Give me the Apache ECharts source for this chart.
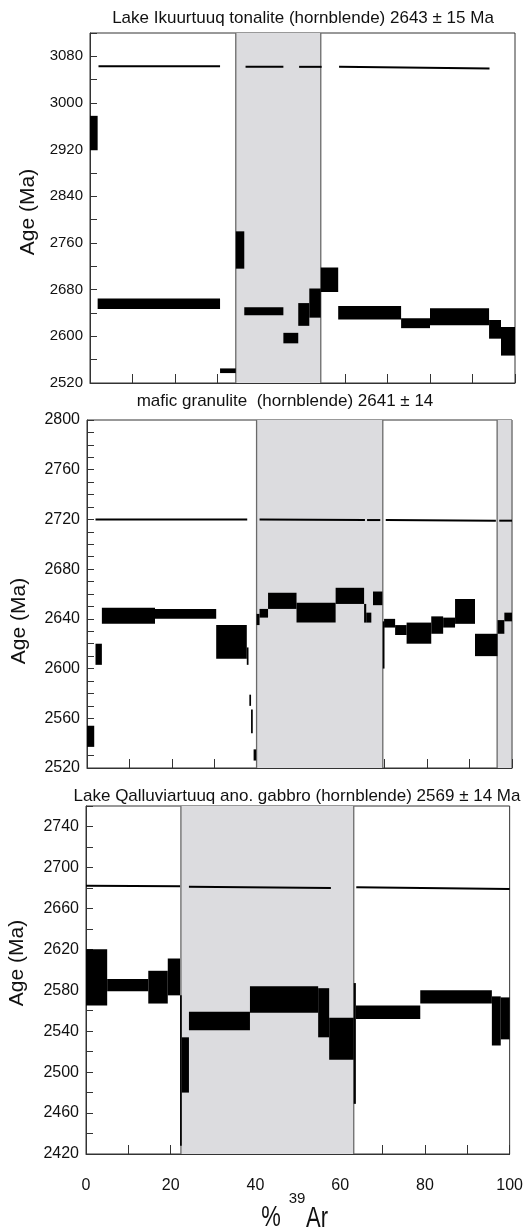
<!DOCTYPE html>
<html><head><meta charset="utf-8">
<script src="https://cdn.jsdelivr.net/npm/echarts@6/dist/echarts.min.js"></script>
<style>html,body{margin:0;padding:0;background:#fff}#c{width:526px;height:1232px}</style>
</head><body><div id="c"></div>
<script>
// Titles
const titles = [
  'Lake Ikuurtuuq tonalite (hornblende) 2643 \u00b1 15 Ma',
  'mafic granulite  (hornblende) 2641 \u00b1 14',
  'Lake Qalluviartuuq ano. gabbro (hornblende) 2569 \u00b1 14 Ma'
];
const yName = 'Age (Ma)';
const xTickLabels = [0, 20, 40, 60, 80, 100];

// Step data: [start %39Ar, end %39Ar, age low, age high]
const p1Steps = [
  [0,1.8,2919,2978],[1.8,30.6,2647,2665],[30.6,34.3,2537,2545],[34.3,36.3,2716,2780],
  [36.3,45.5,2636,2650],[45.5,49.0,2588,2606],[49.0,51.6,2618,2657],[51.6,54.3,2632,2682],
  [54.3,58.4,2676,2718],[58.4,73.2,2629,2652],[73.2,80.0,2614,2631],[80.0,93.9,2619,2648],
  [93.9,96.7,2596,2628],[96.7,100,2567,2616]
];
const p2Steps = [
  [0,1.7,2537,2554],[2.0,3.5,2603,2620],[3.5,16.0,2636,2649],[16.0,30.4,2640,2648],
  [30.4,37.6,2608,2635],[37.6,38.0,2603,2617],[38.2,38.6,2570,2579],[38.6,39.0,2548,2567],
  [39.2,39.8,2526,2535],[39.9,40.6,2635,2644],[40.6,42.6,2641,2648],[42.6,49.3,2648,2661],
  [49.3,58.5,2637,2653],[58.5,65.2,2652,2665],[65.2,65.7,2637,2652],[65.7,66.9,2637,2645],
  [67.3,69.5,2651,2662],[69.6,70.0,2600,2638],[69.9,72.5,2633,2640],[72.5,75.2,2627,2635],
  [75.2,81.0,2620,2637],[81.0,83.8,2628,2642],[83.8,86.6,2633,2641],[86.6,91.3,2636,2656],
  [91.3,96.6,2610,2628],[96.6,98.2,2628,2639],[98.2,100,2638,2645]
];
const p3Steps = [
  [0,5.0,2565,2620],[5.0,14.7,2579,2591],[14.7,19.3,2567,2599],[19.3,22.2,2575,2611],
  [22.2,22.6,2428,2575],[22.6,24.3,2480,2534],[24.3,38.7,2541,2559],[38.7,54.8,2558,2584],
  [54.8,57.4,2534,2582],[57.4,63.2,2512,2553],[63.2,63.7,2469,2587],[63.7,78.9,2552,2565],
  [78.9,95.8,2567,2580],[95.8,97.9,2526,2574],[97.9,100,2532,2573]
];
// Thin upper lines: [start %, end %, value at start, value at end]
const p1Lines = [[2.0,30.6,3063,3063],[36.6,45.5,3062,3062],[49.2,54.5,3062,3062],[58.6,94.0,3062,3059]];
const p2Lines = [[2.0,37.7,2720,2720],[40.6,65.4,2720,2719.5],[65.9,69.0,2719.5,2719.5],[70.3,96.2,2719.5,2719],[97.0,100,2719,2719]];
const p3Lines = [[0,22.2,2682,2681.5],[24.3,57.8,2681,2680],[63.8,100,2680.5,2679]];
// Plateau (shaded) bands: [start %, end %]
const p1Bands = [[34.3,54.3]];
const p2Bands = [[39.9,69.6],[96.5,100]];
const p3Bands = [[22.4,63.2]];
// Axis ranges
const yRanges = [[2520,3120],[2520,2800],[2420,2760]];
const yTickSteps = [40,10,20];
const yLabelSteps = [80,40,40];

const FONT = 'Liberation Sans, Arial, sans-serif';
const chart = echarts.init(document.getElementById('c'));

const grids = [
  {left:90, top:33, width:425, height:350},
  {left:87, top:420, width:425, height:348},
  {left:86, top:806, width:424, height:348}
];

function stepItem(params, api){
  const a = api.coord([api.value(0), api.value(3)]);
  const b = api.coord([api.value(1), api.value(2)]);
  return {type:'rect', shape:{x:a[0], y:a[1], width:Math.max(b[0]-a[0],1.5), height:b[1]-a[1]},
    style:{fill:'#000'}};
}
function lineItem(params, api){
  const a = api.coord([api.value(0), api.value(2)]);
  const b = api.coord([api.value(1), api.value(3)]);
  return {type:'line', shape:{x1:a[0], y1:a[1], x2:b[0], y2:b[1]}, style:{stroke:'#000', lineWidth:2}};
}
function bandItem(params, api){
  const cs = params.coordSys;
  const x0 = api.coord([api.value(0), 0])[0];
  const x1 = api.coord([api.value(1), 0])[0];
  return {type:'group', children:[
    {type:'rect', shape:{x:x0, y:cs.y, width:x1-x0, height:cs.height}, style:{fill:'#dcdcdf'}},
    {type:'line', shape:{x1:x0, y1:cs.y, x2:x0, y2:cs.y+cs.height}, style:{stroke:'#6a6a6a', lineWidth:1.3}},
    {type:'line', shape:{x1:x1, y1:cs.y, x2:x1, y2:cs.y+cs.height}, style:{stroke:'#6a6a6a', lineWidth:1.3}}
  ]};
}

const stepsAll = [p1Steps, p2Steps, p3Steps];
const linesAll = [p1Lines, p2Lines, p3Lines];
const bandsAll = [p1Bands, p2Bands, p3Bands];

const xAxes = [], yAxes = [], series = [];
for (let i = 0; i < 3; i++) {
  xAxes.push({
    type:'value', gridIndex:i, min:0, max:100, interval:10,
    axisLine:{show:true, lineStyle:{color:'#333', width:1}},
    axisTick:{show:true, inside:true, length:9, lineStyle:{color:'#333'}},
    splitLine:{show:false},
    axisLabel:{show: i === 2, margin:24, fontFamily:FONT, fontSize:16, color:'#111',
      formatter: v => xTickLabels.indexOf(v) >= 0 ? String(v) : ''}
  });
  const r = yRanges[i], ls = yLabelSteps[i];
  yAxes.push({
    type:'value', gridIndex:i, min:r[0], max:r[1], interval:yTickSteps[i],
    axisLine:{show:true, lineStyle:{color:'#333', width:1}},
    axisTick:{show:true, inside:true, length:7, lineStyle:{color:'#333'}},
    splitLine:{show:false},
    axisLabel:{margin:7, fontFamily:FONT, fontSize: i === 0 ? 15 : 16, color:'#111',
      formatter: v => ((v - r[0]) % ls === 0 && v < r[1] - 1e-6) || (i === 1 && v === r[1]) ? String(v) : ''}
  });
  series.push({type:'custom', xAxisIndex:i, yAxisIndex:i, renderItem:bandItem, data:bandsAll[i],
    encode:{x:[0,1], y:1}, z:1, silent:true, clip:true});
  series.push({type:'custom', xAxisIndex:i, yAxisIndex:i, renderItem:lineItem, data:linesAll[i],
    encode:{x:[0,1], y:[2,3]}, z:3, silent:true, clip:true});
  series.push({type:'custom', xAxisIndex:i, yAxisIndex:i, renderItem:stepItem, data:stepsAll[i],
    encode:{x:[0,1], y:[2,3]}, z:4, silent:true, clip:true});
}

const titlePos = [[303,18],[285,401],[297,796]];
const namePos = [[28,212],[19,621],[17,963]];
const graphics = [];
for (let i = 0; i < 3; i++) {
  graphics.push({type:'text', x:titlePos[i][0], y:titlePos[i][1], z:10,
    style:{text:titles[i], font:'17px ' + FONT, fill:'#111', textAlign:'center', textVerticalAlign:'middle'}});
  graphics.push({type:'text', x:namePos[i][0], y:namePos[i][1], rotation:Math.PI/2, z:10,
    style:{text:yName, font:'21px ' + FONT, fill:'#111', textAlign:'center', textVerticalAlign:'middle'}});
}
// x-axis name: "% 39Ar"
graphics.push({type:'text', x:271, y:1218, scaleY:1.35, z:10,
  style:{text:'%', font:'22px ' + FONT, fill:'#111', textAlign:'center', textVerticalAlign:'middle'}});
graphics.push({type:'text', x:297, y:1199, z:10,
  style:{text:'39', font:'15px ' + FONT, fill:'#111', textAlign:'center', textVerticalAlign:'middle'}});
graphics.push({type:'text', x:317, y:1219, scaleY:1.35, z:10,
  style:{text:'Ar', font:'22px ' + FONT, fill:'#111', textAlign:'center', textVerticalAlign:'middle'}});

chart.setOption({
  animation:false,
  backgroundColor:'#fff',
  grid: grids.map(g => Object.assign({show:true, borderColor:'#333', borderWidth:1, backgroundColor:'transparent'}, g)),
  xAxis:xAxes, yAxis:yAxes, series:series, graphic:graphics
});
</script></body></html>
